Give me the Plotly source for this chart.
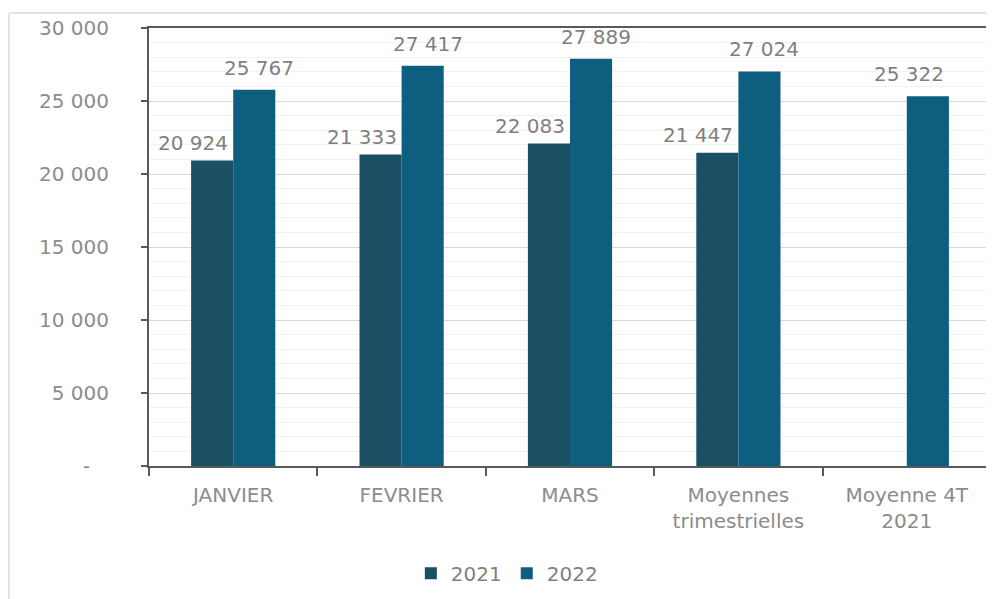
import plotly.graph_objects as go

categories = ["JANVIER", "FEVRIER", "MARS", "Moyennes<br>trimestrielles", "Moyenne 4T<br>2021"]
values_2021 = [20924, 21333, 22083, 21447, None]
values_2022 = [25767, 27417, 27889, 27024, 25322]
y_tickvals = [0, 5000, 10000, 15000, 20000, 25000, 30000]
y_ticktext = ["-\u00a0\u00a0\u00a0", "5 000", "10 000", "15 000", "20 000", "25 000", "30 000"]

def fmt(v):
    return f"{v:,}".replace(",", " ")

FONT = "DejaVu Sans"
GRAY = "#8c8c8c"
LBL = "#7f7f7f"
C2021 = "#1b5064"
C2022 = "#0e5e80"
FS = 20

fig = go.Figure()
fig.add_trace(go.Bar(name="2021", x=categories, y=values_2021, marker_color=C2021,
                     marker_line_width=0))
fig.add_trace(go.Bar(name="2022", x=categories, y=values_2022, marker_color=C2022,
                     marker_line_width=0))

annotations = []
for c, v in zip(categories, values_2021):
    if v is None:
        continue
    annotations.append(dict(x=c, y=v, xref="x", yref="y", text=fmt(v), showarrow=False,
                            yanchor="bottom", xshift=-40, yshift=4,
                            font=dict(family=FONT, size=FS, color=LBL)))
for i, (c, v) in enumerate(zip(categories, values_2022)):
    xs = 0 if values_2021[i] is None else 24
    annotations.append(dict(x=c, y=v, xref="x", yref="y", text=fmt(v), showarrow=False,
                            yanchor="bottom", xshift=xs + 2, yshift=8,
                            font=dict(family=FONT, size=FS, color=LBL)))

shapes = [
    dict(type="line", xref="paper", yref="paper", x0=-0.1663, x1=-0.1663, y0=-0.32, y1=1.0342,
         line=dict(color="#e3e3e3", width=2)),
    dict(type="line", xref="paper", yref="paper", x0=-0.1663, x1=1.01, y0=1.0342, y1=1.0342,
         line=dict(color="#e3e3e3", width=2)),
]

fig.update_layout(
    width=986, height=591,
    margin=dict(l=141, r=3, t=20, b=133, autoexpand=False),
    paper_bgcolor="white", plot_bgcolor="white",
    barmode="group", bargap=0.5, bargroupgap=0,
    font=dict(family=FONT, size=FS, color=GRAY),
    showlegend=True,
    legend=dict(orientation="h", x=0.425, xanchor="center", y=-0.245, yanchor="middle",
                font=dict(family=FONT, size=FS, color=LBL), itemwidth=30,
                traceorder="normal"),
    annotations=annotations,
    shapes=shapes,
)
fig.update_xaxes(
    automargin=False,
    showline=True, linecolor="#595959", linewidth=2, mirror=True,
    ticks="outside", tickson="boundaries", ticklen=8, tickcolor="#595959", tickwidth=2,
    tickfont=dict(family=FONT, size=FS, color=GRAY), ticklabelstandoff=10,
)
fig.update_yaxes(
    automargin=False,
    range=[0, 30000], tickvals=y_tickvals, ticktext=y_ticktext,
    showline=True, linecolor="#595959", linewidth=2, mirror=True,
    ticks="outside", ticklen=6, tickcolor="#595959", tickwidth=2,
    showgrid=True, gridcolor="#d9d9d9", gridwidth=1,
    minor=dict(dtick=1000, showgrid=True, gridcolor="#f2f2f2", gridwidth=1, ticks=""),
    zeroline=False,
    tickfont=dict(family=FONT, size=FS, color=GRAY), ticklabelstandoff=28,
)

fig.write_html("out.html")
